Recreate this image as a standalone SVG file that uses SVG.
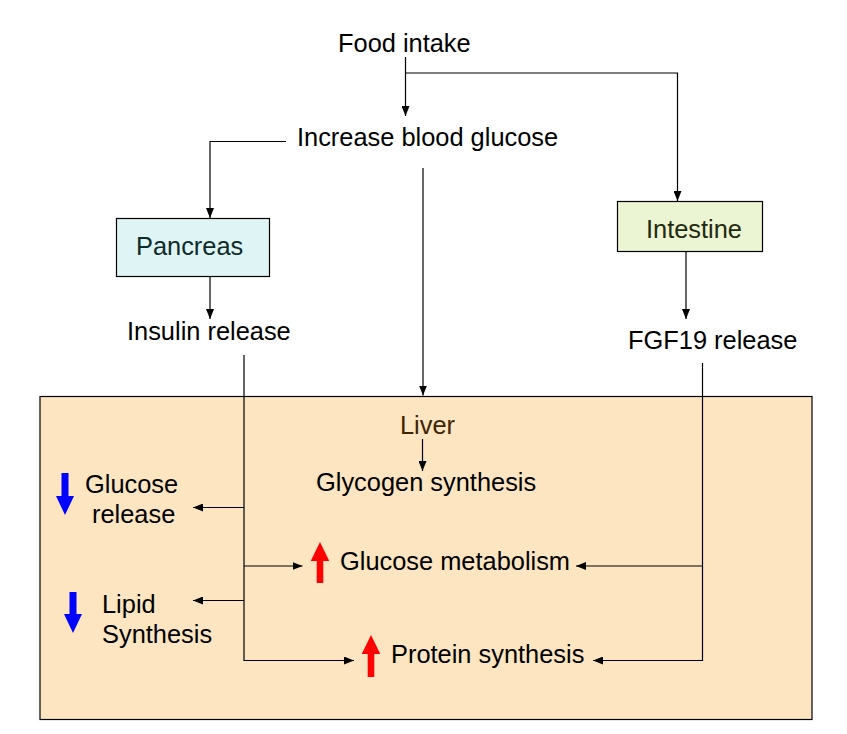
<svg xmlns="http://www.w3.org/2000/svg" width="847" height="734" viewBox="0 0 847 734">
<style>
text{font-family:"Liberation Sans",Arial,sans-serif;font-size:25.4px;fill:#000}
.c{fill:none;stroke:#000;stroke-width:1.2}
.box{stroke:#000;stroke-width:1.2}
.up{fill:#FF0000}
.dn{fill:#0000FF}
</style>
<defs>
<marker id="a" markerUnits="userSpaceOnUse" markerWidth="10" markerHeight="8" viewBox="0 0 10 8" refX="10" refY="4" orient="auto">
<path d="M0,0 L10,4 L0,8 Z" fill="#000"/>
</marker>
</defs>
<rect width="847" height="734" fill="#fff"/>
<g id="liver">
<rect class="box" x="40" y="396.5" width="772" height="323" fill="#FDE5C2"/>
<text x="400" y="434" style="fill:#3D2405">Liver</text>
</g>
<g id="food"><text x="338" y="52">Food intake</text></g>
<g id="glucose"><text x="297" y="146">Increase blood glucose</text></g>
<g id="pancreas">
<rect class="box" x="116.5" y="218.5" width="153" height="58" fill="#DFF5F5"/>
<text x="136" y="255" style="fill:#0F2A2A">Pancreas</text>
</g>
<g id="intestine">
<rect class="box" x="617.5" y="201.5" width="145" height="50" fill="#EBF4D3"/>
<text x="646" y="238" style="fill:#1F2A10">Intestine</text>
</g>
<g id="insulin"><text x="127" y="340">Insulin release</text></g>
<g id="fgf19"><text x="628" y="349">FGF19 release</text></g>
<g id="glycogen"><text x="316" y="491">Glycogen synthesis</text></g>
<g id="glucoserelease">
<polygon class="dn" points="61.5,473 68.5,473 68.5,496 74,496 65,515 56,496 61.5,496"/>
<text x="85" y="493">Glucose</text>
<text x="92" y="523">release</text>
</g>
<g id="lipid">
<polygon class="dn" points="69.5,592 76.5,592 76.5,614 82,614 73,633 64,614 69.5,614"/>
<text x="102" y="613">Lipid</text>
<text x="102" y="643">Synthesis</text>
</g>
<g id="glucosemetabolism">
<polygon class="up" points="320,542 329.3,561 323.3,561 323.3,583 316.7,583 316.7,561 310.7,561"/>
<text x="340" y="570">Glucose metabolism</text>
</g>
<g id="protein">
<polygon class="up" points="371,635 380.3,654 374.3,654 374.3,677 367.7,677 367.7,654 361.7,654"/>
<text x="391" y="663">Protein synthesis</text>
</g>
<g id="connectors">
<path class="c" d="M405.5 57 V116" marker-end="url(#a)"/>
<path class="c" d="M405.5 73 H677.5 V201" marker-end="url(#a)"/>
<path class="c" d="M286 141.5 H210 V218" marker-end="url(#a)"/>
<path class="c" d="M423 168 V395.5" marker-end="url(#a)"/>
<path class="c" d="M210 277 V319" marker-end="url(#a)"/>
<path class="c" d="M686 252 V319" marker-end="url(#a)"/>
<path class="c" d="M244 355 V660.5 H354" marker-end="url(#a)"/>
<path class="c" d="M244 507.5 H193" marker-end="url(#a)"/>
<path class="c" d="M244 566 H302.5" marker-end="url(#a)"/>
<path class="c" d="M244 600.5 H193" marker-end="url(#a)"/>
<path class="c" d="M702.5 363 V660.5 H593" marker-end="url(#a)"/>
<path class="c" d="M702.5 566 H576" marker-end="url(#a)"/>
<path class="c" d="M422.5 439 V471" marker-end="url(#a)"/>
</g>
</svg>
